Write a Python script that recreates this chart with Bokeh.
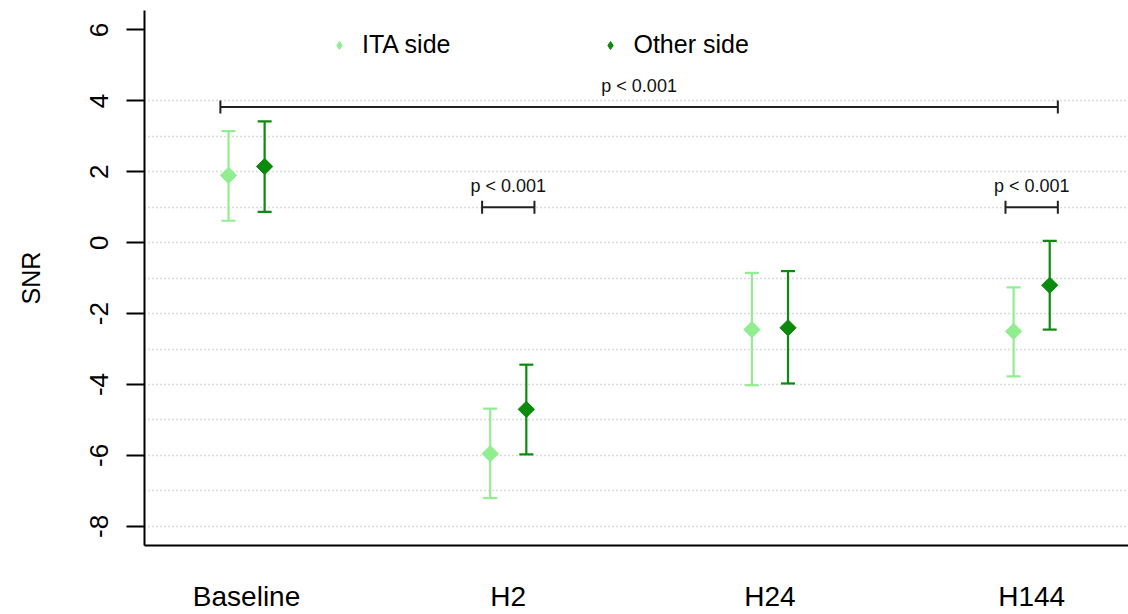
from bokeh.plotting import figure
from bokeh.models import (ColumnDataSource, Range1d, FixedTicker, Whisker, TeeHead,
                          Legend, LegendItem)
from bokeh.embed import file_html
from bokeh.resources import INLINE
from bokeh.core.properties import value

# ---- data ----
categories = ["Baseline", "H2", "H24", "H144"]
ita_mean = [1.90, -5.95, -2.45, -2.50]
ita_upper = [3.15, -4.68, -0.85, -1.26]
ita_lower = [0.62, -7.20, -4.02, -3.77]
other_mean = [2.15, -4.70, -2.40, -1.20]
other_upper = [3.42, -3.44, -0.80, 0.05]
other_lower = [0.87, -5.97, -3.97, -2.45]

# significance brackets: (from category, to category, height, label)
comp_from = ["Baseline", "H2", "H144"]
comp_to = ["H144", "H2", "H144"]
comp_y = [3.83, 1.00, 1.00]
comp_label = ["p < 0.001", "p < 0.001", "p < 0.001"]

y_ticks = [-8, -6, -4, -2, 0, 2, 4, 6]
grid_ticks = list(range(-8, 5))

LIGHT = "#90EE90"
DARK = "#0B8B0B"
FONT = "Liberation Sans"

dodge = 0.069
bracket_pad = 0.10
pos = {c: i + 1 for i, c in enumerate(categories)}

ita_src = ColumnDataSource(dict(
    x=[pos[c] - dodge for c in categories], y=ita_mean, up=ita_upper, lo=ita_lower))
oth_src = ColumnDataSource(dict(
    x=[pos[c] + dodge for c in categories], y=other_mean, up=other_upper, lo=other_lower))

br_src = ColumnDataSource(dict(
    left=[pos[a] - bracket_pad for a in comp_from],
    right=[pos[b] + bracket_pad for b in comp_to],
    mid=[(pos[a] + pos[b]) / 2 for a, b in zip(comp_from, comp_to)],
    y=comp_y, label=comp_label))

p = figure(width=1128, height=614, output_backend="svg", toolbar_location=None,
           x_range=Range1d(0.61, 4.37), y_range=Range1d(-8.54, 6.55),
           min_border_left=144, min_border_top=10, min_border_bottom=67,
           min_border_right=0)
p.outline_line_color = None
p.background_fill_color = "white"
p.border_fill_color = "white"

# grid
p.xgrid.visible = False
p.ygrid.ticker = FixedTicker(ticks=grid_ticks)
p.ygrid.grid_line_color = "#b8b8b8"
p.ygrid.grid_line_dash = "1 3"
p.ygrid.grid_line_width = 1.3

# y axis
p.yaxis.ticker = FixedTicker(ticks=y_ticks)
p.yaxis.major_label_overrides = {t: str(t) for t in y_ticks}
p.yaxis.minor_tick_line_color = None
p.yaxis.major_tick_in = 0
p.yaxis.major_tick_out = 18
p.yaxis.major_tick_line_width = 2
p.yaxis.axis_line_width = 2
p.yaxis.axis_line_color = "black"
p.yaxis.major_tick_line_color = "black"
p.yaxis.major_label_orientation = "vertical"
p.yaxis.major_label_text_font = FONT
p.yaxis.major_label_text_font_size = "26px"
p.yaxis.major_label_text_color = "black"
p.yaxis.major_label_standoff = 18
p.yaxis.axis_label = "SNR"
p.yaxis.axis_label_text_font = FONT
p.yaxis.axis_label_text_font_size = "25px"
p.yaxis.axis_label_text_font_style = "normal"
p.yaxis.axis_label_text_color = "black"
p.yaxis.axis_label_standoff = 43

# x axis
p.xaxis.ticker = FixedTicker(ticks=[pos[c] for c in categories])
p.xaxis.major_label_overrides = {pos[c]: c for c in categories}
p.xaxis.minor_tick_line_color = None
p.xaxis.major_tick_in = 0
p.xaxis.major_tick_out = 0
p.xaxis.axis_line_width = 2
p.xaxis.axis_line_color = "black"
p.xaxis.major_label_text_font = FONT
p.xaxis.major_label_text_font_size = "28px"
p.xaxis.major_label_text_color = "black"
p.xaxis.major_label_standoff = 35

# error bars
for src, col in ((ita_src, LIGHT), (oth_src, DARK)):
    w = Whisker(source=src, base="x", upper="up", lower="lo", dimension="height",
                line_color=col, line_width=2.2,
                upper_head=TeeHead(size=14, line_color=col, line_width=2.2),
                lower_head=TeeHead(size=14, line_color=col, line_width=2.2))
    p.add_layout(w)

p.scatter("x", "y", source=ita_src, marker="square", angle=0.785398, size=11.5,
          fill_color=LIGHT, line_color=LIGHT)
p.scatter("x", "y", source=oth_src, marker="square", angle=0.785398, size=11.5,
          fill_color=DARK, line_color=DARK)

# significance brackets
bw = Whisker(source=br_src, base="y", upper="right", lower="left", dimension="width",
             line_color="#222222", line_width=2,
             upper_head=TeeHead(size=13, line_color="#222222", line_width=2),
             lower_head=TeeHead(size=13, line_color="#222222", line_width=2))
p.add_layout(bw)
p.text("mid", "y", text="label", source=br_src, text_align="center",
       text_baseline="alphabetic", y_offset=-21, text_font=value(FONT),
       text_font_size="18px", text_color="#111111")

# legend (with smaller diamond glyphs, drawn off-data)
nan = float("nan")
leg_ita = p.scatter(x=[nan], y=[nan], marker="diamond", size=11,
                    fill_color=LIGHT, line_color=LIGHT)
leg_oth = p.scatter(x=[nan], y=[nan], marker="diamond", size=11,
                    fill_color=DARK, line_color=DARK)
legend = Legend(items=[LegendItem(label="ITA side", renderers=[leg_ita]),
                       LegendItem(label="Other side", renderers=[leg_oth])],
                orientation="horizontal", location=(185, 486),
                padding=0, margin=0, spacing=150, glyph_width=20, glyph_height=20,
                label_standoff=13, label_text_font=FONT, label_text_font_size="25px",
                label_text_color="black", border_line_color=None,
                background_fill_alpha=0)
p.add_layout(legend)

open("out.html", "w").write(file_html(p, INLINE))
